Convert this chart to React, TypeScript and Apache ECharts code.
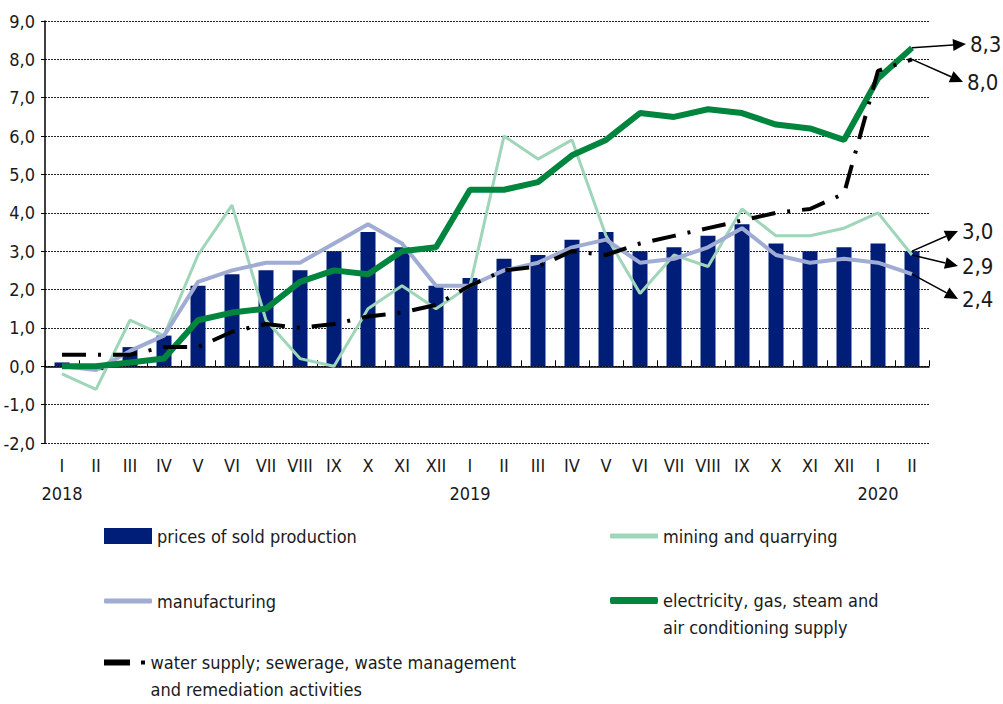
import React, { useEffect, useRef } from 'react';
import * as echarts from 'echarts';

const monthLabels = ['I','II','III','IV','V','VI','VII','VIII','IX','X','XI','XII','I','II','III','IV','V','VI','VII','VIII','IX','X','XI','XII','I','II'];
const yearLabels = ['2018','','','','','','','','','','','','2019','','','','','','','','','','','','2020',''];

const pricesSold = [0.1,-0.1,0.5,0.8,2.1,2.4,2.5,2.5,3.0,3.5,3.1,2.1,2.3,2.8,2.9,3.3,3.5,3.0,3.1,3.4,3.7,3.2,3.0,3.1,3.2,3.0];
const mining = [-0.2,-0.6,1.2,0.8,2.9,4.2,1.2,0.2,0.0,1.5,2.1,1.5,2.1,6.0,5.4,5.9,3.4,1.9,2.9,2.6,4.1,3.4,3.4,3.6,4.0,2.9];
const manufacturing = [0.0,-0.1,0.4,0.8,2.2,2.5,2.7,2.7,3.2,3.7,3.2,2.1,2.1,2.5,2.7,3.1,3.3,2.7,2.8,3.1,3.6,2.9,2.7,2.8,2.7,2.4];
const electricity = [0.0,0.0,0.1,0.2,1.2,1.4,1.5,2.2,2.5,2.4,3.0,3.1,4.6,4.6,4.8,5.5,5.9,6.6,6.5,6.7,6.6,6.3,6.2,5.9,7.5,8.3];
const water = [0.3,0.3,0.3,0.5,0.5,0.9,1.1,1.0,1.1,1.3,1.4,1.6,2.1,2.5,2.6,3.0,2.9,3.2,3.4,3.6,3.8,4.0,4.1,4.5,7.7,8.0];

const N_BARS = 'prices of sold production';
const N_MIN = 'mining and quarrying';
const N_MAN = 'manufacturing';
const N_ELE = 'electricity, gas, steam and air conditioning supply';
const N_WAT = 'water supply; sewerage, waste management and remediation activities';

const FONT = "'Liberation Sans Narrow', 'DejaVu Sans Condensed', 'Roboto', sans-serif";
const TXT = '#1a1a1a';

const fmt = (v: number) => v.toFixed(1).replace('.', ',');

export default function App() {
  const ref = useRef<HTMLDivElement>(null);
  useEffect(() => {
    document.body.style.margin = '0';
    const chart = echarts.init(ref.current!, null, { renderer: 'svg' });
    const cats = monthLabels.map((_, i) => String(i));
    const legendText = { fontFamily: FONT, fontSize: 18, color: TXT, lineHeight: 20 };
    const legendText2 = { fontFamily: FONT, fontSize: 18, color: TXT, lineHeight: 27 };
    const option: any = {
      animation: false,
      grid: { left: 45, right: 74, top: 21, bottom: 261, containLabel: false },
      xAxis: [
        {
          type: 'category',
          data: cats,
          position: 'bottom',
          axisLine: { show: false, onZero: false },
          axisTick: { show: false },
          axisLabel: {
            interval: 0,
            margin: 8,
            fontFamily: FONT,
            fontSize: 18,
            lineHeight: 28,
            color: TXT,
            formatter: (_v: string, i: number) => monthLabels[i] + (yearLabels[i] ? '\n' + yearLabels[i] : ''),
          },
          splitLine: { show: false },
        },
        {
          type: 'category',
          data: cats,
          position: 'bottom',
          axisLine: { show: true, onZero: true, lineStyle: { color: '#000', width: 1.5 } },
          axisTick: { show: true, inside: true, length: 6, interval: 0, lineStyle: { color: '#000', width: 1 } },
          axisLabel: { show: false },
          splitLine: { show: false },
        },
      ],
      yAxis: {
        type: 'value',
        min: -2,
        max: 9,
        interval: 1,
        axisLine: { show: true, lineStyle: { color: '#000', width: 1.5 } },
        axisTick: { show: true, length: 4, lineStyle: { color: '#000' } },
        axisLabel: { margin: 10, fontFamily: FONT, fontSize: 18, color: TXT, formatter: (v: number) => fmt(v) },
        splitLine: { show: true, lineStyle: { color: '#222', width: 1, type: [2, 1] } },
      },
      legend: [
        { data: [N_BARS], left: 104, top: 526, padding: 0, itemWidth: 48, itemHeight: 16, icon: 'rect', textStyle: legendText },
        { data: [N_MIN], left: 610, top: 526, padding: 0, itemWidth: 48, itemHeight: 5, icon: 'roundRect', textStyle: legendText },
        { data: [N_MAN], left: 104, top: 591, padding: 0, itemWidth: 48, itemHeight: 5, icon: 'roundRect', textStyle: legendText },
        {
          data: [N_ELE], left: 610, top: 560, padding: 0, itemWidth: 48, itemHeight: 7, icon: 'roundRect', textStyle: legendText2,
          formatter: () => ' \nelectricity, gas, steam and\nair conditioning supply',
        },
        {
          data: [N_WAT], left: 104, top: 622, padding: 0, itemWidth: 42, itemHeight: 6,
          icon: 'path://M0,0H26V6H0Z M37,1H41V5H37Z', textStyle: legendText2,
          formatter: () => ' \nwater supply; sewerage, waste management\nand remediation activities',
        },
      ],
      series: [
        { name: N_BARS, type: 'bar', data: pricesSold, barWidth: 15, color: '#001e77', itemStyle: { color: '#001e77' } },
        { name: N_MIN, type: 'line', data: mining, showSymbol: false, color: '#9fd5b9', lineStyle: { color: '#9fd5b9', width: 3 } },
        { name: N_MAN, type: 'line', data: manufacturing, showSymbol: false, color: '#a0acd4', lineStyle: { color: '#a0acd4', width: 4 } },
        { name: N_ELE, type: 'line', data: electricity, showSymbol: false, color: '#00853e', lineStyle: { color: '#00853e', width: 6 } },
        {
          name: N_WAT, type: 'line', data: water, showSymbol: false, color: '#000',
          lineStyle: { color: '#000', width: 4, type: [24, 12, 3, 12], cap: 'butt' },
        },
      ],
    };
    chart.setOption(option);

    const callouts = [
      { data: electricity, tip: [966, 44] },
      { data: water, tip: [963, 82] },
      { data: pricesSold, tip: [958, 231] },
      { data: mining, tip: [958, 266] },
      { data: manufacturing, tip: [958, 299] },
    ];
    const graphics: any[] = [];
    callouts.forEach((c) => {
      const last = c.data.length - 1;
      const p = chart.convertToPixel({ gridIndex: 0 }, [last, c.data[last]]) as number[];
      const sx = p[0], sy = p[1];
      const [tx, ty] = c.tip;
      const dx = tx - sx, dy = ty - sy;
      const len = Math.sqrt(dx * dx + dy * dy);
      const ux = dx / len, uy = dy / len;
      const bx = tx - 13 * ux, by = ty - 13 * uy;
      const nx = -uy, ny = ux;
      graphics.push({ type: 'line', shape: { x1: sx, y1: sy, x2: bx, y2: by }, style: { stroke: '#000', lineWidth: 1.5 }, z: 100 });
      graphics.push({
        type: 'polygon',
        shape: { points: [[tx, ty], [bx + 6 * nx, by + 6 * ny], [bx - 6 * nx, by - 6 * ny]] },
        style: { fill: '#000' },
        z: 100,
      });
      graphics.push({
        type: 'text', x: tx + 4, y: ty, z: 100,
        style: { text: fmt(c.data[last]), font: `22px ${FONT}`, fill: TXT, verticalAlign: 'middle', align: 'left' },
      });
    });
    chart.setOption({ graphic: graphics });

    return () => chart.dispose();
  }, []);
  return <div ref={ref} style={{ width: 1003, height: 704 }} />;
}
